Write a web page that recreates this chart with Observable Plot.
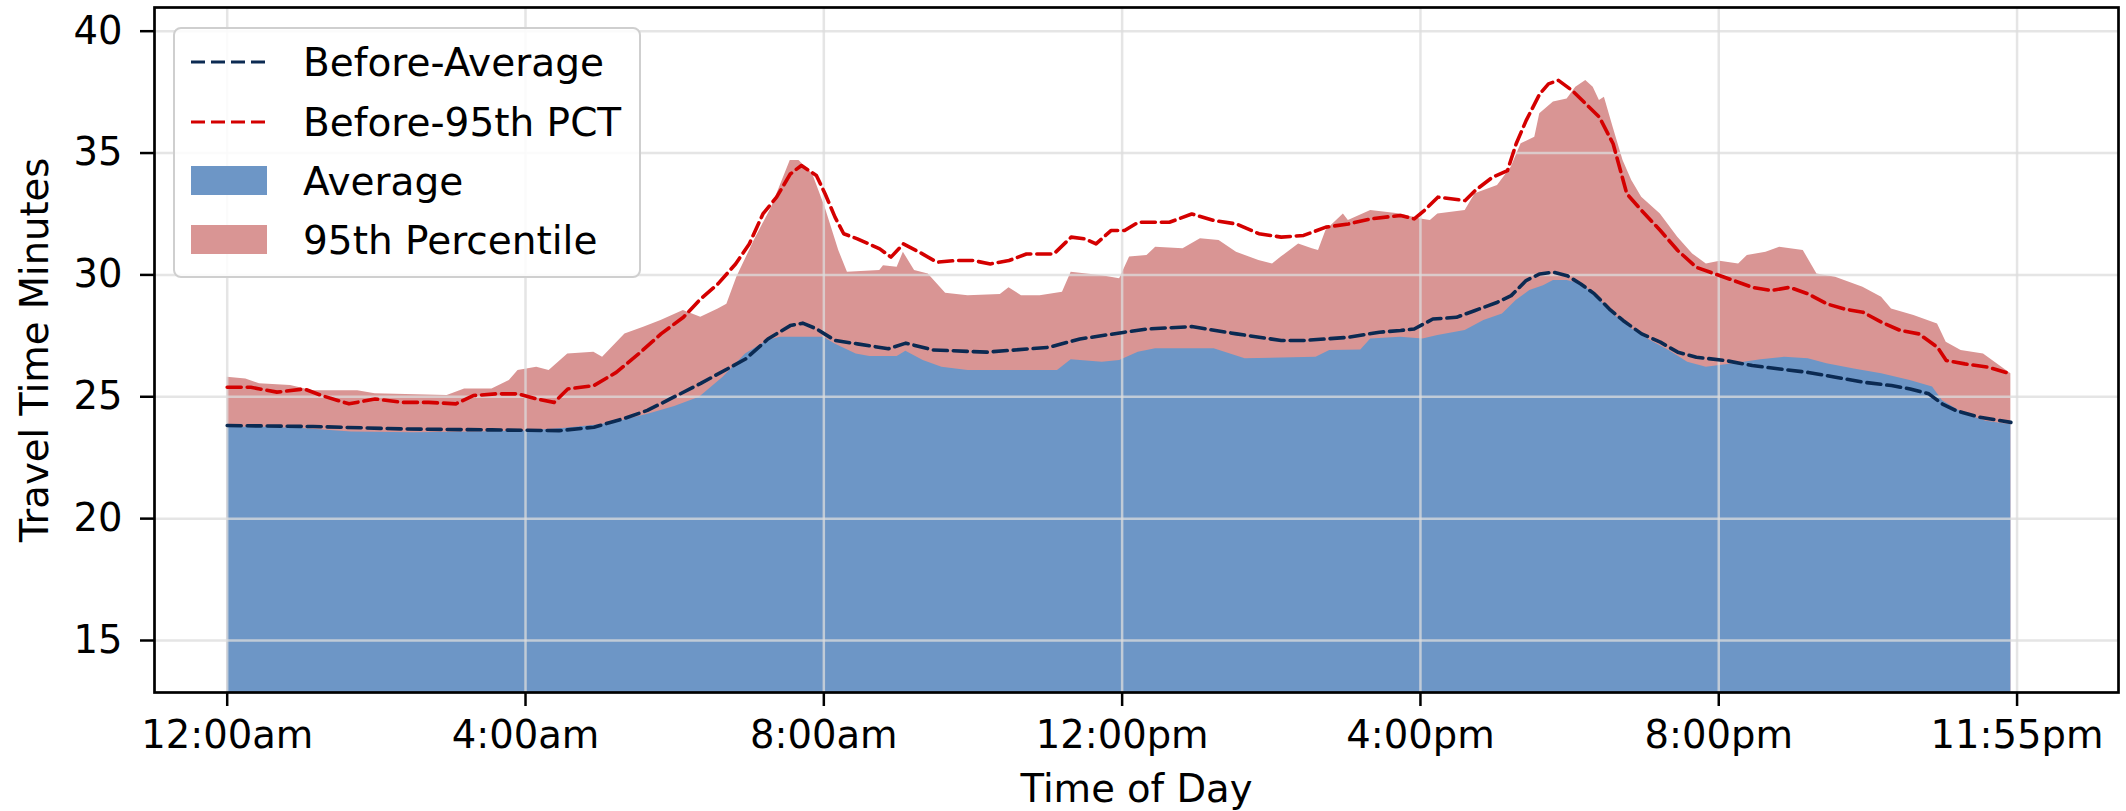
<!DOCTYPE html>
<html>
<head>
<meta charset="utf-8">
<script src="https://cdn.jsdelivr.net/npm/d3@7"></script>
<script src="https://cdn.jsdelivr.net/npm/@observablehq/plot@0.6"></script>
<style>
  html, body { margin: 0; padding: 0; background: #ffffff; }
  #chart { width: 2126px; height: 811px; }
</style>
</head>
<body>
<div id="chart"></div>
<script>
// Travel time by time of day, in minutes after midnight (5-minute bins, 0 … 1435).

// Current average travel time (blue area)
const average = [
  [0, 23.75], [30, 23.75], [60, 23.7], [100, 23.55], [150, 23.52], [200, 23.55],
  [240, 23.6], [270, 23.7], [300, 23.85], [320, 24.05], [340, 24.3], [360, 24.6],
  [380, 24.98], [399, 25.8], [417, 26.76], [435, 27.31], [445, 27.44], [480, 27.44],
  [489, 27.17], [506, 26.76], [517, 26.65], [539, 26.65], [546, 26.87], [560, 26.49],
  [575, 26.21], [596, 26.08], [668, 26.08], [679, 26.52], [704, 26.42], [718, 26.49],
  [733, 26.83], [747, 26.97], [794, 26.97], [819, 26.56], [876, 26.62], [887, 26.9],
  [912, 26.92], [920, 27.37], [944, 27.44], [962, 27.37], [974, 27.51], [996, 27.72],
  [1011, 28.13], [1026, 28.4], [1037, 28.95], [1048, 29.36], [1059, 29.56], [1067, 29.77],
  [1078, 29.77], [1089, 29.63], [1100, 29.22], [1115, 28.4], [1130, 27.78], [1145, 27.31],
  [1160, 26.9], [1175, 26.42], [1190, 26.21], [1212, 26.35], [1234, 26.52], [1253, 26.62],
  [1272, 26.56], [1287, 26.35], [1309, 26.14], [1331, 25.94], [1354, 25.67], [1372, 25.4],
  [1380, 24.84], [1398, 24.29], [1415, 24.0], [1435, 23.85]
];

// Current 95th percentile travel time (pink area)
const percentile95 = [
  [0, 25.8], [15, 25.73], [26, 25.53], [51, 25.46], [69, 25.25], [105, 25.25],
  [119, 25.12], [177, 25.05], [191, 25.32], [213, 25.32], [227, 25.67], [234, 26.08],
  [249, 26.21], [259, 26.08], [274, 26.76], [295, 26.83], [302, 26.62], [320, 27.58],
  [335, 27.85], [349, 28.13], [367, 28.54], [381, 28.26], [395, 28.6], [402, 28.8],
  [410, 29.9], [424, 31.41], [438, 32.78], [453, 34.69], [460, 34.69], [471, 34.14],
  [481, 32.78], [492, 31.0], [499, 30.11], [525, 30.18], [528, 30.38], [539, 30.31],
  [544, 30.93], [553, 30.18], [564, 30.04], [578, 29.25], [596, 29.15], [622, 29.2],
  [629, 29.47], [639, 29.15], [654, 29.15], [672, 29.29], [679, 30.11], [704, 29.97],
  [718, 29.84], [726, 30.73], [740, 30.8], [747, 31.14], [769, 31.07], [783, 31.48],
  [798, 31.41], [812, 30.93], [830, 30.59], [841, 30.45], [848, 30.73], [862, 31.27],
  [873, 31.07], [878, 31.0], [884, 31.82], [898, 32.5], [902, 32.23], [920, 32.64],
  [944, 32.5], [959, 32.3], [968, 32.23], [974, 32.5], [996, 32.64], [1004, 33.33],
  [1022, 33.67], [1033, 34.42], [1041, 35.38], [1052, 35.65], [1056, 36.61], [1067, 37.09],
  [1078, 37.22], [1085, 37.7], [1093, 37.98], [1099, 37.7], [1104, 37.16], [1108, 37.29],
  [1115, 36.06], [1123, 34.69], [1130, 33.87], [1138, 33.19], [1153, 32.5], [1167, 31.55],
  [1179, 30.86], [1190, 30.45], [1201, 30.56], [1216, 30.45], [1223, 30.8], [1238, 30.93],
  [1249, 31.14], [1268, 31.0], [1279, 30.04], [1294, 29.9], [1316, 29.49], [1331, 29.08],
  [1339, 28.6], [1357, 28.33], [1376, 27.99], [1383, 27.24], [1395, 26.9], [1413, 26.76],
  [1435, 25.94]
];

// Earlier period average (navy dashed line)
const beforeAverage = [
  [0, 23.82], [69, 23.78], [141, 23.68], [213, 23.64], [267, 23.61], [295, 23.75],
  [320, 24.12], [338, 24.44], [356, 24.9], [381, 25.55], [417, 26.55], [435, 27.37],
  [453, 27.92], [463, 28.02], [474, 27.79], [489, 27.31], [507, 27.17], [532, 26.97],
  [546, 27.2], [568, 26.92], [611, 26.83], [661, 27.03], [686, 27.37], [722, 27.65],
  [740, 27.78], [776, 27.88], [812, 27.58], [848, 27.31], [866, 27.31], [902, 27.44],
  [927, 27.65], [944, 27.72], [955, 27.78], [970, 28.19], [989, 28.26], [1004, 28.54],
  [1022, 28.88], [1033, 29.15], [1045, 29.77], [1056, 30.04], [1067, 30.11], [1078, 29.97],
  [1089, 29.63], [1100, 29.22], [1112, 28.6], [1123, 28.13], [1138, 27.58], [1153, 27.24],
  [1167, 26.83], [1182, 26.62], [1205, 26.49], [1227, 26.28], [1249, 26.14], [1272, 26.0],
  [1294, 25.8], [1316, 25.6], [1339, 25.46], [1354, 25.32], [1369, 25.12], [1380, 24.7],
  [1391, 24.43], [1410, 24.16], [1435, 23.95]
];

// Earlier period 95th percentile (red dashed line)
const before95 = [
  [0, 25.39], [19, 25.39], [40, 25.19], [62, 25.32], [76, 25.05], [98, 24.71],
  [119, 24.91], [141, 24.77], [162, 24.77], [184, 24.71], [198, 25.05], [216, 25.12],
  [234, 25.12], [249, 24.91], [263, 24.77], [274, 25.32], [295, 25.46], [313, 26.0],
  [331, 26.76], [349, 27.58], [367, 28.26], [381, 29.02], [395, 29.64], [409, 30.45],
  [420, 31.27], [431, 32.5], [442, 33.19], [453, 34.14], [462, 34.49], [474, 34.08],
  [481, 33.33], [489, 32.37], [496, 31.69], [507, 31.48], [525, 31.07], [534, 30.73],
  [544, 31.27], [557, 30.93], [571, 30.52], [586, 30.59], [600, 30.59], [614, 30.45],
  [629, 30.59], [643, 30.86], [665, 30.86], [679, 31.55], [690, 31.48], [699, 31.27],
  [711, 31.82], [722, 31.82], [733, 32.16], [758, 32.16], [776, 32.5], [794, 32.23],
  [812, 32.09], [830, 31.69], [848, 31.55], [866, 31.62], [884, 31.96], [902, 32.09],
  [920, 32.3], [944, 32.44], [955, 32.3], [963, 32.64], [974, 33.19], [996, 33.05],
  [1004, 33.46], [1018, 34.01], [1030, 34.28], [1037, 35.38], [1045, 36.33], [1056, 37.43],
  [1063, 37.84], [1071, 37.98], [1082, 37.57], [1093, 37.02], [1104, 36.47], [1115, 35.38],
  [1126, 33.33], [1138, 32.64], [1153, 31.82], [1167, 31.0], [1182, 30.31], [1197, 30.04],
  [1212, 29.77], [1227, 29.49], [1242, 29.36], [1257, 29.49], [1272, 29.22], [1287, 28.81],
  [1301, 28.6], [1316, 28.47], [1331, 28.06], [1346, 27.72], [1361, 27.58], [1376, 27.03],
  [1383, 26.49], [1398, 26.35], [1417, 26.21], [1435, 25.94]
];

// Axis ticks
const xTickMinutes = [0, 240, 480, 720, 960, 1200, 1440];
const xTickLabels = ["12:00am", "4:00am", "8:00am", "12:00pm", "4:00pm", "8:00pm", "11:55pm"];
const yTicks = [15, 20, 25, 30, 35, 40];

// Legend entries
const legendLines = [
  {label: "Before-Average", color: "#0b2a52"},
  {label: "Before-95th PCT", color: "#d40000"}
];
const legendSwatches = [
  {label: "Average", color: "#6d96c6"},
  {label: "95th Percentile", color: "#d99594"}
];

const FONT = "'DejaVu Sans', 'Liberation Sans', sans-serif";
const dash = "14,6";
const lineWidth = 3.6;

const chart = Plot.plot({
  width: 2126,
  height: 811,
  marginLeft: 154,
  marginRight: 8,
  marginTop: 7,
  marginBottom: 119,
  style: {fontFamily: FONT, fontSize: "38px", color: "#000", background: "#fff", overflow: "visible"},
  x: {domain: [-58.49, 1521.6]},
  y: {domain: [12.866, 40.972]},
  marks: [
    Plot.areaY(percentile95, {x: d => d[0], y: d => d[1], fill: "#d99594", clip: true}),
    Plot.areaY(average, {x: d => d[0], y: d => d[1], fill: "#6d96c6", clip: true}),
    Plot.ruleY(yTicks, {stroke: "#dcdcdc", strokeWidth: 2.5, strokeOpacity: 0.75}),
    Plot.ruleX(xTickMinutes, {stroke: "#dcdcdc", strokeWidth: 2.5, strokeOpacity: 0.75}),
    Plot.line(before95, {x: d => d[0], y: d => d[1], stroke: legendLines[1].color, strokeWidth: lineWidth, strokeDasharray: dash}),
    Plot.line(beforeAverage, {x: d => d[0], y: d => d[1], stroke: legendLines[0].color, strokeWidth: lineWidth, strokeDasharray: dash}),
    Plot.frame({stroke: "#000", strokeWidth: 2.7}),
    Plot.axisX(xTickMinutes, {
      label: null, tickSize: 14, tickPadding: 14, strokeWidth: 2.5, fontSize: 38.5,
      tickFormat: d => xTickLabels[xTickMinutes.indexOf(d)]
    }),
    Plot.axisY(yTicks, {label: null, tickSize: 14, tickPadding: 18, strokeWidth: 2.5, fontSize: 38.5}),
    Plot.text(["Time of Day"], {
      frameAnchor: "bottom", textAnchor: "middle", lineAnchor: "middle",
      dy: 97, text: d => d, fontSize: 38.5
    }),
    Plot.text(["Travel Time Minutes"], {
      frameAnchor: "left", textAnchor: "middle", lineAnchor: "middle",
      dx: -119, rotate: -90, text: d => d, fontSize: 38.5
    })
  ]
});

document.getElementById("chart").appendChild(chart);

// Legend box in the upper-left corner of the plot area
const svg = d3.select(chart);
const lg = svg.append("g")
  .attr("font-family", FONT)
  .attr("font-size", 39)
  .attr("text-anchor", "start");
lg.append("rect")
  .attr("x", 174).attr("y", 28).attr("width", 466).attr("height", 249)
  .attr("rx", 7).attr("fill", "#fff").attr("fill-opacity", 0.85)
  .attr("stroke", "#cfcfcf").attr("stroke-width", 2);

const rowY = [62, 122, 181, 240];
legendLines.forEach((e, i) => {
  lg.append("line")
    .attr("x1", 191).attr("x2", 270).attr("y1", rowY[i]).attr("y2", rowY[i])
    .attr("stroke", e.color).attr("stroke-width", 3).attr("stroke-dasharray", dash);
  lg.append("text").attr("x", 303).attr("y", rowY[i] + 14)
    .attr("text-anchor", "start").attr("fill", "#000").text(e.label);
});
legendSwatches.forEach((e, j) => {
  const i = j + 2;
  lg.append("rect")
    .attr("x", 191).attr("y", rowY[i] - 15).attr("width", 76).attr("height", 29)
    .attr("fill", e.color);
  lg.append("text").attr("x", 303).attr("y", rowY[i] + 14)
    .attr("text-anchor", "start").attr("fill", "#000").text(e.label);
});
</script>
</body>
</html>
